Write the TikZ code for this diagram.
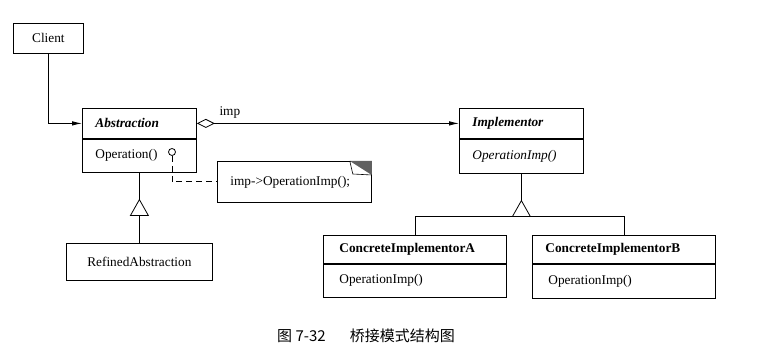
\documentclass[tikz,border=0pt]{standalone}
\usepackage{fontspec}
\setmainfont{Liberation Serif}
\newfontfamily\cjk{Noto Sans CJK SC}
\usetikzlibrary{positioning, calc, arrows.meta}

\begin{document}
\begin{tikzpicture}[x=1pt, y=-1pt, line width=0.8pt,
        every node/.style={font=\fontsize{13.3}{15}\selectfont},
        plain/.style={rectangle, draw, line width=0.8pt, anchor=north west, align=center},
        clsname/.style={rectangle, draw, line width=0.8pt, anchor=north west, minimum height=30pt, inner xsep=13pt, align=left},
        clsop/.style={rectangle, draw, line width=0.8pt, minimum height=33pt, inner xsep=13pt, align=left},
        assoc/.style={-{Latex[length=10pt, width=4.5pt]}}
    ]
        \useasboundingbox (0,0) rectangle (772,358);
        % client and abstraction side
        \node[plain, minimum width=70pt, minimum height=30pt] (CLIENT) at (13,23) {Client};
        \node[clsname, text width=88pt] (ABS) at (82,108) {\textbf{\textit{Abstraction}}};
        \node[clsop, text width=88pt, below=0pt of ABS] (ABSOP) {Operation()};
        \node[plain, anchor=north, minimum width=146pt, minimum height=37pt, below=70pt of ABSOP] (REF) {RefinedAbstraction};
        % implementor side
        \node[clsname, text width=98pt] (IMP) at (459,108) {\textbf{\textit{Implementor}}};
        \node[clsop, text width=98pt, minimum height=34pt, below=0pt of IMP] (IMPOP) {\textit{OperationImp()}};
        \node[clsname, text width=151pt, inner xsep=16pt, minimum height=28pt] (CA) at (323,235) {\textbf{ConcreteImplementorA}};
        \node[clsop, text width=151pt, inner xsep=16pt, below=0pt of CA] (CAOP) {OperationImp()};
        \node[clsname, text width=157pt, minimum height=28pt] (CB) at (532,235) {\textbf{ConcreteImplementorB}};
        \node[clsop, text width=151pt, inner xsep=16pt, minimum height=34pt, below=0pt of CB] (CBOP) {OperationImp()};
        % note
        \node[plain, align=left, minimum width=154pt, minimum height=41pt, inner xsep=13pt, text width=128pt] (NOTE) at (217,161) {imp->OperationImp();};
        \fill[gray!75!black] ($(NOTE.north east)+(-22,0)$) -- (NOTE.north east) -- ++(0,14) -- cycle;
        \draw[line width=0.6pt] ($(NOTE.north east)+(-22,0)$) -- ++(3,13) -- ($(NOTE.north east)+(0,14)$);
        \node[circle, draw, line width=0.8pt, minimum size=7pt, inner sep=0pt] (DOT) at (172,152) {};
        \draw[dashed, dash pattern=on 6pt off 4pt] (DOT.south) |- (NOTE.west);

        % connectors
        \draw[assoc] (CLIENT.south) |- (ABS.west);
        \draw[{Diamond[open, length=18pt, width=9pt]}-{Latex[length=10pt, width=4.5pt]}] (ABS.east) -- node[pos=0, anchor=south west, xshift=19pt, yshift=1pt] (IMPLBL) {imp} (IMP.west);

        \coordinate (ABSTRI) at ($(ABSOP.south)+(0,27)$);
        \coordinate (ABSBASE) at ($(ABSTRI)+(0,16)$);
        \draw (ABSOP.south) -- (ABSTRI);
        \draw (ABSTRI) -- ++(-9,16) -- ++(18,0) -- cycle;
        \draw (ABSBASE) -- (REF.north);

        \coordinate (IMPTRI) at ($(IMPOP.south)+(0,27)$);
        \coordinate (IMPBASE) at ($(IMPTRI)+(0,16)$);
        \draw (IMPOP.south) -- (IMPTRI);
        \draw (IMPTRI) -- ++(-9,16) -- ++(18,0) -- cycle;
        \draw (CA.north) |- (IMPBASE) -| (CB.north);

        % caption
        \node[font=\cjk\fontsize{15}{17}\selectfont] (CAP) at (366,336) {图 7-32\hspace{24pt}桥接模式结构图};
    \end{tikzpicture}
\end{document}
